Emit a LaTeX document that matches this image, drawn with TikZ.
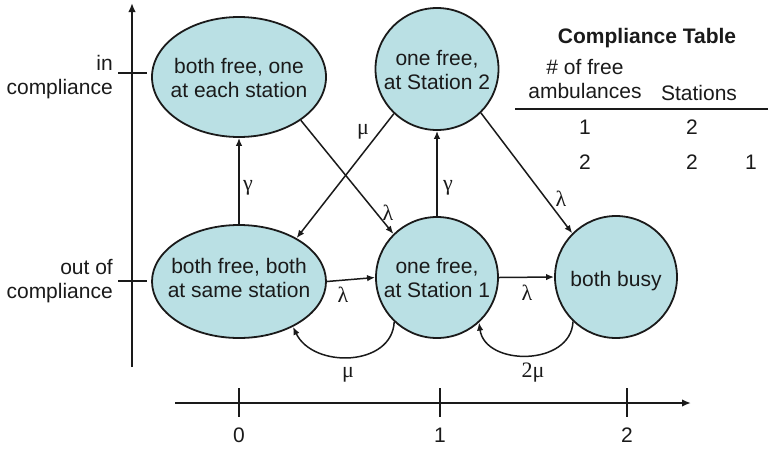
\documentclass[tikz,border=0pt]{standalone}
\usepackage{fontspec}
\setmainfont{Liberation Sans}
\newfontfamily\grk{Liberation Serif}
\usetikzlibrary{shapes.geometric,arrows.meta}
\definecolor{stfill}{RGB}{186,224,228}
\definecolor{ink}{RGB}{26,26,26}
\begin{document}
\begin{tikzpicture}[x=1pt,y=-1pt,
 st/.style={ellipse,draw=ink,line width=1.8pt,fill=stfill,inner sep=0pt},
 txt/.style={font=\fontsize{21}{24}\selectfont,align=center,inner sep=0pt,text=ink},
 gl/.style={font=\grk\fontsize{22}{24}\selectfont,inner sep=0pt,text=ink},
 tr/.style={draw=ink,-{Latex[length=8pt,width=6.5pt]},line width=1.5pt},
 axisline/.style={draw=ink,line width=2.3pt},
 axisarrow/.style={draw=ink,line width=2.3pt,-{Latex[length=9pt,width=7.5pt]}}]
\useasboundingbox (0,0) rectangle (768,448);

% states
\node[st,minimum width=174pt,minimum height=120pt] (e1) at (239,77) {};
\node[st,minimum width=123pt,minimum height=122pt] (e2) at (437,69) {};
\node[st,minimum width=174pt,minimum height=113pt] (e3) at (239,281.5) {};
\node[st,minimum width=122pt,minimum height=121pt] (e4) at (437,277.5) {};
\node[st,minimum width=122pt,minimum height=122pt] (e5) at (616,277) {};

\node[txt] (t1) at (239,80.2) {\strut both free, one\\\strut at each station};
\node[txt] (t2) at (437,72.2) {\strut one free,\\\strut at Station 2};
\node[txt] (t3) at (239,280.5) {\strut both free, both\\\strut at same station};
\node[txt] (t4) at (437,280.5) {\strut one free,\\\strut at Station 1};
\node[txt] (t5) at (616,281.2) {\strut both busy};

% vertical axis
\coordinate (vb) at (132,367);
\coordinate (vt) at (132,3);
\draw[axisarrow] (vb) -- (vt);
\coordinate (ta1) at (118,73);
\coordinate (ta2) at (147,73);
\draw[axisline] (ta1) -- (ta2);
\coordinate (tb1) at (118,281);
\coordinate (tb2) at (147,281);
\draw[axisline] (tb1) -- (tb2);
\node[txt,anchor=east,align=right] (lin) at (113,77.2) {\strut in\\\strut compliance};
\node[txt,anchor=east,align=right] (lout) at (113,281.2) {\strut out of\\\strut compliance};

% horizontal axis
\coordinate (hb) at (175,403);
\coordinate (ht) at (691,403);
\draw[axisarrow] (hb) -- (ht);
\foreach \xx/\nm in {239/0,440/1,627/2}{
  \coordinate (u\nm) at (\xx,388);
  \coordinate (d\nm) at (\xx,417);
  \draw[axisline] (u\nm) -- (d\nm);
  \node[txt] (n\nm) at (\xx,435.5) {\nm};
}

% transitions
\draw[tr] (e3) -- (e1);
\draw[tr] (e4) -- (e2);
\draw[tr] (e1.-35) -- (e4.135);
\draw[tr] (e2.-134) -- (e3.37);
\draw[tr] (e2.-45) -- (e5.135);
\draw[tr] (e3.east) -- (e4.west);
\draw[tr] (e4.east) -- (e5.west);
\draw[tr] (e4.-134) .. controls +(-2,45) and +(20,42) .. (e3.-40);
\draw[tr] (e5.-134) .. controls +(-2,45) and +(6,44) .. (e4.-47);

% rate labels
\node[gl] (g1) at (248,188) {γ};
\node[gl] (g2) at (448,188) {γ};
\node[gl] (l1) at (388,213) {λ};
\node[gl] (m1) at (363,132) {μ};
\node[gl] (l2) at (561,199) {λ};
\node[gl] (l3) at (343,295) {λ};
\node[gl] (l4) at (527,293) {λ};
\node[gl] (m2) at (348,375) {μ};
\node[gl] (m3) at (533,373) {2μ};

% compliance table
\node[txt,font=\bfseries\fontsize{21}{24}\selectfont] (ct) at (647,38.2) {\strut Compliance Table};
\node[txt] (h1) at (585,81.5) {\strut\# of free\\\strut ambulances};
\node[txt] (h2) at (699,95.2) {\strut Stations};
\coordinate (r1) at (515,109);
\coordinate (r2) at (768,109);
\draw[draw=ink,line width=1.8pt] (r1) -- (r2);
\node[txt] (c11) at (585,127.5) {1};
\node[txt] (c12) at (692,127.5) {2};
\node[txt] (c21) at (585,162.5) {2};
\node[txt] (c22) at (692,162.5) {2};
\node[txt] (c23) at (751,162.5) {1};
\end{tikzpicture}
\end{document}
